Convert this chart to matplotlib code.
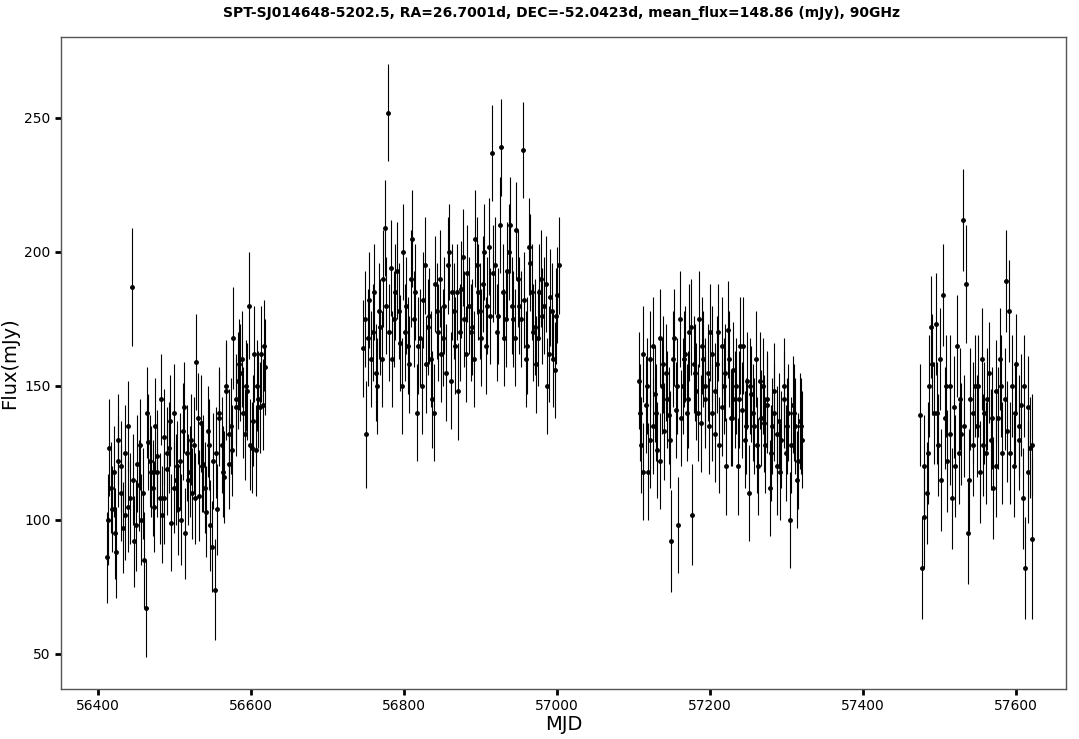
import matplotlib
matplotlib.use("Agg")
import matplotlib.pyplot as plt

mjd1 = [56412,56415,56418,56421,56424,56427,56430,56433,56436,56439,56442,56445,56448,56451,56454,56457,56460,56463,56466,56469,56472,56475,56478,56481,56484,56487,56490,56493,56496,56499,56502,56505,56508,56511,56514,56517,56520,56523,56526,56529,56532,56535,56538,56541,56544,56547,56550,56553,56556,56559,56562,56565,56568,56571,56574,56577,56580,56583,56586,56589,56592,56595,56598,56601,56604,56607,56610,56613,56616,56619]
flux1 = [86,127,104,118,88,122,110,97,125,105,108,187,92,121,113,100,85,67,129,118,112,135,124,108,102,131,119,127,99,140,115,104,122,133,95,125,118,110,128,159,109,136,121,103,133,98,122,74,104,138,128,116,148,121,135,168,142,152,155,160,132,148,180,127,162,126,145,162,143,157]
err1 = [17,18,16,17,17,17,18,17,18,17,17,22,17,18,17,17,18,18,18,17,18,18,17,17,18,18,17,17,18,18,17,17,18,18,17,18,17,17,18,18,17,18,18,17,17,17,18,19,17,18,18,17,18,17,18,19,18,18,18,18,17,18,20,17,18,17,18,18,17,18]

mjd1b = [56413,56417,56422,56426,56431,56435,56440,56446,56450,56455,56459,56464,56468,56473,56477,56482,56486,56491,56495,56500,56504,56509,56513,56518,56522,56527,56531,56536,56540,56545,56549,56554,56558,56563,56567,56572,56576,56581,56585,56590,56594,56599,56603,56608,56612,56617]
flux1b = [100,112,95,130,120,102,135,115,98,128,110,140,122,105,118,145,108,125,137,112,120,100,142,115,130,108,138,120,112,128,90,125,140,118,150,132,126,145,158,140,150,128,137,150,142,165]
err1b = [17,17,17,17,17,17,17,17,17,17,17,17,17,17,17,17,17,17,17,17,17,17,17,17,17,17,17,17,17,17,17,17,17,17,17,17,17,17,17,17,17,17,17,17,17,17]

mjd2 = [56747,56751,56755,56759,56763,56767,56771,56775,56779,56783,56787,56791,56795,56799,56803,56807,56811,56815,56819,56823,56827,56831,56835,56839,56843,56847,56851,56855,56859,56863,56867,56871,56875,56879,56883,56887,56891,56895,56899,56903,56907,56911,56915,56919,56923,56927,56931,56935,56939,56943,56947,56951,56955,56959,56963,56967,56971,56975,56979,56983,56987,56991,56995,56999,57002]
flux2 = [164,132,182,170,155,178,160,209,252,194,175,193,166,200,180,158,205,185,165,150,195,172,160,140,178,190,168,155,200,185,165,148,186,175,192,170,160,195,178,188,165,202,237,195,176,239,168,193,210,175,208,180,238,160,202,185,172,168,190,180,150,183,160,176,195]
err2 = [18,20,18,18,18,18,18,18,18,18,18,18,18,18,18,18,18,18,18,18,18,18,18,18,18,18,18,18,18,18,18,18,18,18,18,18,18,18,18,18,18,18,18,18,18,18,18,18,18,18,18,18,18,18,18,18,18,18,18,18,18,18,18,18,18]

mjd2b = [56749,56753,56757,56761,56765,56769,56773,56777,56781,56785,56789,56793,56797,56801,56805,56809,56813,56817,56821,56825,56829,56833,56837,56841,56845,56849,56853,56857,56861,56865,56869,56873,56877,56881,56885,56889,56893,56897,56901,56905,56909,56913,56917,56921,56925,56929,56933,56937,56941,56945,56949,56953,56957,56961,56965,56969,56973,56977,56981,56985,56989,56993,56997,57000]
flux2b = [175,168,160,185,150,172,190,180,170,160,185,178,150,170,165,190,175,140,168,182,158,176,145,188,170,162,180,195,152,178,185,170,198,162,180,172,205,185,168,200,180,176,192,170,210,185,175,200,180,168,190,175,182,165,196,170,158,185,176,188,162,178,156,184]
err2b = [18,18,18,18,18,18,18,18,18,18,18,18,18,18,18,18,18,18,18,18,18,18,18,18,18,18,18,18,18,18,18,18,18,18,18,18,18,18,18,18,18,18,18,18,18,18,18,18,18,18,18,18,18,18,18,18,18,18,18,18,18,18,18,18]

mjd3 = [57107,57110,57113,57116,57119,57122,57125,57128,57131,57134,57137,57140,57143,57146,57149,57152,57155,57158,57161,57164,57167,57170,57173,57176,57179,57182,57185,57188,57191,57194,57197,57200,57203,57206,57209,57212,57215,57218,57221,57224,57227,57230,57233,57236,57239,57242,57245,57248,57251,57254,57257,57260,57263,57266,57269,57272,57275,57278,57281,57284,57287,57290,57293,57296,57299,57302,57305,57308,57311,57314,57317,57320]
flux3 = [152,128,162,143,118,160,135,147,126,168,150,133,155,139,92,160,141,98,175,150,162,140,170,102,158,148,175,136,160,145,155,170,140,132,158,128,165,150,120,171,138,156,145,120,165,141,130,152,110,147,135,160,120,138,150,128,143,112,135,148,120,137,130,150,125,140,100,143,135,115,137,130]
err3 = [18,18,18,18,18,18,18,18,18,18,18,18,18,18,19,18,18,18,18,18,18,18,18,19,18,18,18,18,18,18,18,18,18,18,18,18,18,18,18,18,18,18,18,18,18,18,18,18,18,18,18,18,18,18,18,18,18,18,18,18,18,18,18,18,18,18,18,18,18,18,18,18]

mjd3b = [57108,57112,57117,57121,57126,57130,57135,57139,57144,57148,57153,57157,57162,57166,57171,57175,57180,57184,57189,57193,57198,57202,57207,57211,57216,57220,57225,57229,57234,57238,57243,57247,57252,57256,57261,57265,57270,57274,57279,57283,57288,57292,57297,57301,57306,57310,57315,57319]
flux3b = [140,118,150,130,165,140,122,158,145,130,168,150,138,160,145,172,155,140,165,150,135,162,148,170,142,155,160,138,150,145,165,135,150,140,128,152,136,145,125,140,132,118,145,135,128,140,122,135]
err3b = [18,18,18,18,18,18,18,18,18,18,18,18,18,18,18,18,18,18,18,18,18,18,18,18,18,18,18,18,18,18,18,18,18,18,18,18,18,18,18,18,18,18,18,18,18,18,18,18]

mjd4 = [57474,57477,57480,57483,57486,57489,57492,57495,57498,57501,57504,57507,57510,57513,57516,57519,57522,57525,57528,57531,57534,57537,57540,57543,57546,57549,57552,57555,57558,57561,57564,57567,57570,57573,57576,57579,57582,57585,57588,57591,57594,57597,57600,57603,57606,57609,57612,57615,57618,57621]
flux4 = [139,82,120,110,150,172,140,173,128,160,184,138,122,150,108,142,165,125,132,212,188,95,145,128,150,135,118,160,140,125,155,130,112,148,138,160,125,145,133,178,150,120,158,135,143,108,82,142,127,93]
err4 = [19,19,19,19,19,19,19,19,19,19,19,19,19,19,19,19,19,19,19,19,22,19,19,19,19,19,19,19,19,19,19,19,19,19,19,19,19,19,19,19,19,19,19,19,19,19,19,19,19,30]

mjd4b = [57479,57485,57490,57496,57502,57508,57514,57520,57526,57532,57538,57544,57550,57556,57562,57568,57574,57580,57586,57592,57598,57604,57610,57616,57620]
flux4b = [101,125,158,140,115,150,132,120,145,135,115,140,150,128,145,138,120,150,189,125,140,130,150,118,128]
err4b = [19,19,19,19,19,19,19,19,19,19,19,19,19,19,19,19,19,19,19,19,19,19,19,19,19]

fig = plt.figure(figsize=(10.79, 7.39), dpi=100)
ax = fig.add_axes([61/1079, 1-689/739, 1005/1079, 652/739])
for m, f, e in [(mjd1, flux1, err1), (mjd1b, flux1b, err1b), (mjd2, flux2, err2), (mjd2b, flux2b, err2b),
                (mjd3, flux3, err3), (mjd3b, flux3b, err3b), (mjd4, flux4, err4), (mjd4b, flux4b, err4b)]:
    ax.errorbar(m, f, yerr=e, fmt='o', color='black', ms=2.5, elinewidth=0.8, capsize=0)
ax.set_xlim(56352, 57665)
ax.set_ylim(36.9, 280.2)
ax.set_xticks([56400, 56600, 56800, 57000, 57200, 57400, 57600])
ax.set_yticks([50, 100, 150, 200, 250])
ax.tick_params(direction='out', labelsize=10, width=2, length=4)
for s in ax.spines.values():
    s.set_color('#555555')
    s.set_linewidth(1)
ax.set_xlabel('MJD', fontsize=14, labelpad=1)
ax.set_ylabel('Flux(mJy)', fontsize=14)
fig.text(0.52, 1-13/739, 'SPT-SJ014648-5202.5, RA=26.7001d, DEC=-52.0423d, mean_flux=148.86 (mJy), 90GHz',
         ha='center', va='center', fontsize=10, fontweight='bold')
fig.savefig('out.png', dpi=100)
